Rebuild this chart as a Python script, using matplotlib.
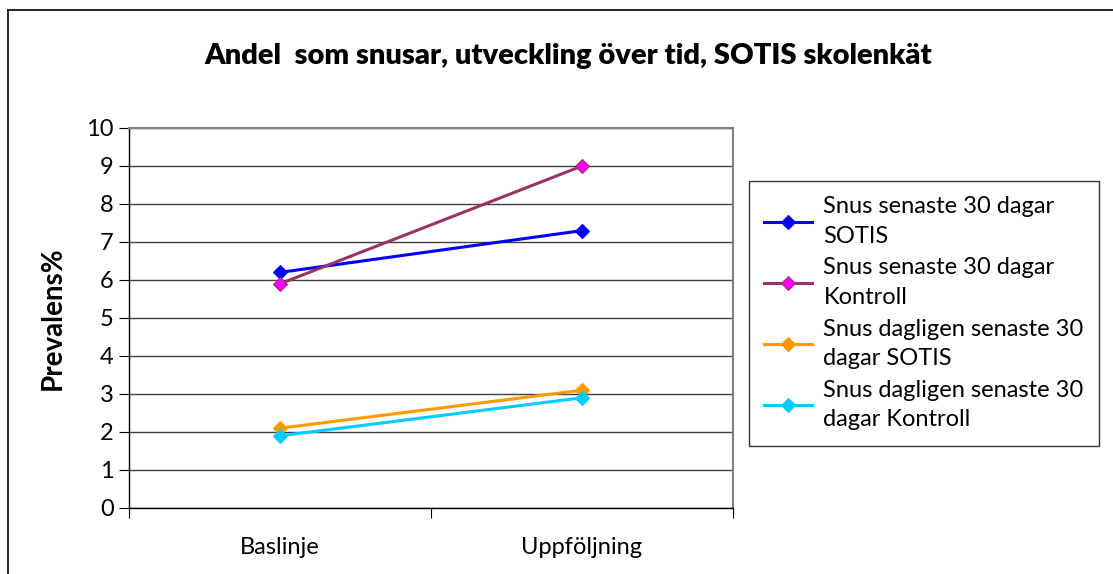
import matplotlib.pyplot as plt
from matplotlib.lines import Line2D

# data
categories = ['Baslinje', 'Uppföljning']
snus_30_sotis = [6.2, 7.3]
snus_30_kontroll = [5.9, 9.0]
daglig_30_sotis = [2.1, 3.1]
daglig_30_kontroll = [1.9, 2.9]
labels = ['Snus senaste 30 dagar\nSOTIS',
          'Snus senaste 30 dagar\nKontroll',
          'Snus dagligen senaste 30\ndagar SOTIS',
          'Snus dagligen senaste 30\ndagar Kontroll']
yticks = list(range(0, 11))

plt.rcParams['font.family'] = ['Lato', 'DejaVu Sans']

fig = plt.figure(figsize=(11.13, 5.74), dpi=100)
ax = fig.add_axes([129 / 1113, 1 - 508 / 574, (733 - 129) / 1113, (508 - 128) / 574])

# outer chart frame (only top and left visible)
fig.add_artist(Line2D([8 / 1113, 1.0], [1 - 10 / 574, 1 - 10 / 574], color='black', lw=1.2))
fig.add_artist(Line2D([8 / 1113, 8 / 1113], [0, 1 - 10 / 574], color='black', lw=1.2))

x = [0.5, 1.5]
styles = [
    (snus_30_sotis, '#0000FF', '#0000FF', '#0000FF'),
    (snus_30_kontroll, '#993366', '#FF00FF', '#993366'),
    (daglig_30_sotis, '#FF9900', '#FF9900', '#FF9900'),
    (daglig_30_kontroll, '#00CCFF', '#00CCFF', '#00CCFF'),
]
for (vals, lc, fc, ec), lab in zip(styles, labels):
    ax.plot(x, vals, color=lc, lw=2.2, marker='D', markersize=7,
            markerfacecolor=fc, markeredgecolor=ec, markeredgewidth=0.8, label=lab)

ax.set_xlim(0, 2)
ax.set_ylim(0, 10)
ax.set_yticks(yticks)
ax.set_xticks([0, 1, 2])
ax.set_xticklabels([])
ax.set_xticks(x, minor=True)
ax.set_xticklabels(categories, minor=True, fontsize=17)
ax.tick_params(axis='x', which='minor', length=0, pad=21)
ax.tick_params(axis='x', which='major', length=7, direction='out', color='black')
ax.tick_params(axis='y', labelsize=17, length=7, direction='out', pad=4)

ax.yaxis.grid(True, color='#404040', lw=1)
ax.set_axisbelow(True)
for s in ['top', 'right']:
    ax.spines[s].set_color('#808080')
    ax.spines[s].set_linewidth(1.5)
for s in ['left', 'bottom']:
    ax.spines[s].set_color('black')
    ax.spines[s].set_linewidth(1)

ax.set_ylabel('Prevalens%', fontsize=20, fontweight='bold', labelpad=15)
fig.text(568 / 1113, 1 - 56 / 574, 'Andel  som snusar, utveckling över tid, SOTIS skolenkät',
         ha='center', va='center', fontsize=21, fontweight='heavy')

leg = ax.legend(loc='upper left', bbox_to_anchor=(749 / 1113, 1 - 181 / 574),
                bbox_transform=fig.transFigure, fontsize=17, frameon=True,
                fancybox=False, edgecolor='black', handlelength=2.0,
                labelspacing=0.45, borderpad=0.65, handletextpad=0.5,
                borderaxespad=0, prop={'size': 17})
leg.get_frame().set_linewidth(1)
for t in leg.get_texts():
    t.set_linespacing(1.5)

plt.savefig('out.png', dpi=100)
